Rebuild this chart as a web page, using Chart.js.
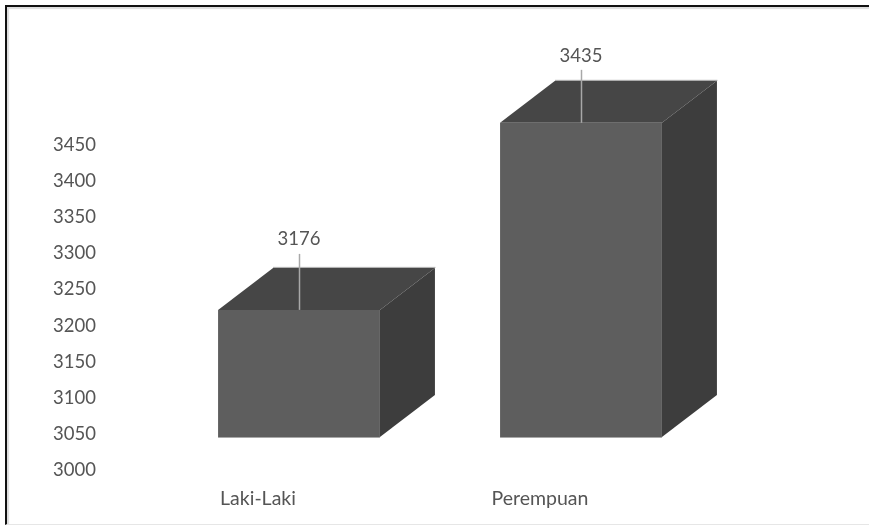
<!DOCTYPE html>
<html>
<head>
<meta charset="utf-8">
<script src="https://cdn.jsdelivr.net/npm/chart.js@4"></script>
<style>
  html, body { margin: 0; padding: 0; background: #fff; overflow: hidden; }
  #wrap { position: relative; width: 869px; height: 526px; }
  #frame {
    position: absolute; left: 5px; top: 5px; width: 864px; height: 520px; box-sizing: border-box;
    border-left: 2px solid #111; border-top: 2px solid #111; border-bottom: 1px solid #e6e6e6;
    box-shadow: inset 2px 2px 1px #ddd;
  }
  canvas { position: absolute; left: 0; top: 0; }
</style>
</head>
<body>
<div id="wrap">
  <div id="frame"></div>
  <canvas id="chart" width="869" height="526"></canvas>
</div>
<script>
const CATEGORIES = ["Laki-Laki", "Perempuan"];
const VALUES = [3176, 3435];
const AXIS_MIN = 3000;
const AXIS_MAX = 3450;
const AXIS_STEP = 50;

const FONT = "Lato, 'Open Sans', sans-serif";
const COLOR_TEXT = "#555555";
const COLOR_FRONT = "#5e5e5e";
const COLOR_TOP = "#464646";
const COLOR_SIDE = "#3d3d3d";
const COLOR_EDGE = "#a8a8a8";
const DEPTH_X = 55;
const DEPTH_Y = 42;
const LEADER_LEN = [56, 53];
const LABEL_GAP = [71, 67];

function face(ctx, pts, fill) {
  ctx.beginPath();
  ctx.moveTo(pts[0][0], pts[0][1]);
  for (const p of pts.slice(1)) ctx.lineTo(p[0], p[1]);
  ctx.closePath();
  ctx.fillStyle = fill;
  ctx.fill();
}

// Excel-style 3D box: top and side faces sit behind the real bar element.
const boxFaces = {
  id: "boxFaces",
  beforeDatasetsDraw(chart) {
    const ctx = chart.ctx;
    for (const bar of chart.getDatasetMeta(0).data) {
      const l = bar.x - bar.width / 2;
      const r = bar.x + bar.width / 2;
      const t = bar.y;
      const b = bar.base;
      ctx.save();
      face(ctx, [[l, t], [r, t], [r + DEPTH_X, t - DEPTH_Y], [l + DEPTH_X, t - DEPTH_Y]], COLOR_TOP);
      face(ctx, [[r, t], [r + DEPTH_X, t - DEPTH_Y], [r + DEPTH_X, b - DEPTH_Y], [r, b]], COLOR_SIDE);
      ctx.strokeStyle = COLOR_EDGE;
      ctx.lineWidth = 1;
      ctx.beginPath();
      ctx.moveTo(l + DEPTH_X, t - DEPTH_Y - 0.5);
      ctx.lineTo(r + DEPTH_X + 0.5, t - DEPTH_Y - 0.5);
      ctx.moveTo(l, b + 0.5);
      ctx.lineTo(r, b + 0.5);
      ctx.stroke();
      ctx.restore();
    }
  },
};

const leaderLabels = {
  id: "leaderLabels",
  afterDatasetsDraw(chart) {
    const ctx = chart.ctx;
    chart.getDatasetMeta(0).data.forEach((bar, i) => {
      const x = Math.round(bar.x) + 0.5;
      ctx.save();
      ctx.strokeStyle = COLOR_EDGE;
      ctx.lineWidth = 1.5;
      ctx.beginPath();
      ctx.moveTo(x, bar.y);
      ctx.lineTo(x, bar.y - LEADER_LEN[i]);
      ctx.stroke();
      ctx.font = "18.5px " + FONT;
      ctx.fillStyle = COLOR_TEXT;
      ctx.textAlign = "center";
      ctx.textBaseline = "middle";
      ctx.fillText(String(VALUES[i]), bar.x, bar.y - LABEL_GAP[i]);
      ctx.restore();
    });
  },
};

new Chart(document.getElementById("chart"), {
  type: "bar",
  data: {
    labels: CATEGORIES,
    datasets: [{
      data: VALUES,
      base: AXIS_MIN,
      backgroundColor: COLOR_FRONT,
      borderWidth: 0,
      categoryPercentage: 1,
      barPercentage: 0.574,
    }],
  },
  options: {
    responsive: false,
    animation: false,
    devicePixelRatio: 1,
    layout: { padding: { top: 112, right: 147, left: 0, bottom: 0 } },
    scales: {
      x: {
        afterFit: (s) => { s.height = 89; },
        grid: { display: false },
        border: { display: false },
        ticks: {
          color: COLOR_TEXT,
          font: { family: FONT, size: 19.5 },
          padding: 42,
          labelOffset: -41,
          maxRotation: 0,
        },
      },
      y: {
        min: AXIS_MIN,
        max: AXIS_MAX,
        afterFit: (s) => { s.width = 158; },
        grid: { display: false, drawTicks: false },
        border: { display: false },
        ticks: {
          stepSize: AXIS_STEP,
          color: COLOR_TEXT,
          font: { family: FONT, size: 18.5 },
          padding: 62,
          labelOffset: 33,
          callback: (v) => String(v),
        },
      },
    },
    plugins: { legend: { display: false }, tooltip: { enabled: false } },
  },
  plugins: [boxFaces, leaderLabels],
});
</script>
</body>
</html>
